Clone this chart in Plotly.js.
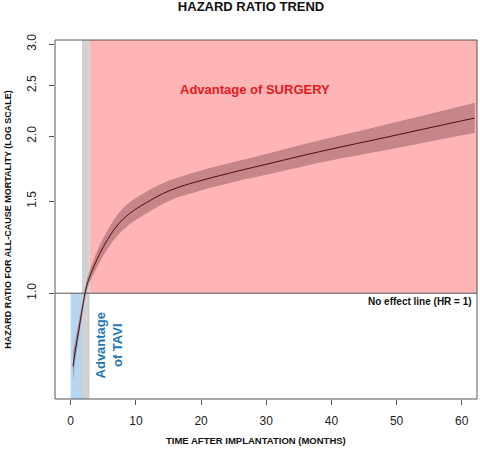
<!DOCTYPE html>
<html>
<head>
<meta charset="utf-8">
<script src="https://cdn.plot.ly/plotly-3.0.1.min.js"></script>
<style>html,body{margin:0;padding:0;background:#fff;}#chart{width:480px;height:451px;}</style>
</head>
<body>
<div id="chart"></div>
<script>
// ---- data ----
const months = [0.35, 0.66, 1.18, 1.69, 2.2, 2.61, 3.38, 4.4, 5.68, 7.2, 9.05, 11.6, 14.2, 16.7, 20, 25.8, 30, 35, 41, 47, 54, 62];
const hrEstimate = [0.724, 0.771, 0.842, 0.919, 1.0, 1.050, 1.112, 1.187, 1.269, 1.351, 1.422, 1.491, 1.553, 1.598, 1.644, 1.716, 1.766, 1.828, 1.901, 1.972, 2.061, 2.166];
const hrLower = [0.682, 0.735, 0.812, 0.894, 0.977, 1.023, 1.079, 1.144, 1.218, 1.290, 1.355, 1.421, 1.484, 1.530, 1.574, 1.643, 1.687, 1.742, 1.807, 1.866, 1.941, 2.027];
const hrUpper = [0.769, 0.809, 0.874, 0.945, 1.023, 1.077, 1.146, 1.232, 1.322, 1.415, 1.493, 1.565, 1.626, 1.669, 1.718, 1.793, 1.849, 1.919, 2.000, 2.085, 2.188, 2.316];
const xTicks = [0, 10, 20, 30, 40, 50, 60];
const yTicks = [1.0, 1.5, 2.0, 2.5, 3.0];
const yTickText = ['1.0', '1.5', '2.0', '2.5', '3.0'];
const tavEnd = 1.73;      // end of "advantage of TAVI" zone (months)
const greyEnd = 2.9;      // end of crossover (grey) zone (months)
const noEffect = 1;       // HR = 1
const xRange = [-2.41, 62.34];
const yMin = 0.627, yMax = 3.056;

const FONT = 'Liberation Sans, Arial, sans-serif';

function rect(x0, x1, y0, y1, color) {
  return {x: [x0, x1, x1, x0, x0], y: [y0, y0, y1, y1, y0], type: 'scatter', mode: 'lines',
    fill: 'toself', fillcolor: color, line: {width: 0}, hoverinfo: 'skip', showlegend: false};
}

const traces = [
  rect(0, tavEnd, yMin, noEffect, '#b5d6ee'),
  rect(greyEnd, xRange[1], noEffect, yMax, '#ffb4b6'),
  rect(tavEnd, greyEnd, yMin, yMax, '#d2d2d2'),
  {x: months, y: hrLower, type: 'scatter', mode: 'lines', line: {width: 0, shape: 'spline', smoothing: 1}, hoverinfo: 'skip', showlegend: false},
  {x: months, y: hrUpper, type: 'scatter', mode: 'lines', fill: 'tonexty', fillcolor: 'rgba(98,50,59,0.36)',
   line: {width: 0, shape: 'spline', smoothing: 1}, hoverinfo: 'skip', showlegend: false},
  {x: months, y: hrEstimate, type: 'scatter', mode: 'lines', line: {color: '#520a12', width: 1, shape: 'spline', smoothing: 1}, showlegend: false},
  {x: xRange, y: [noEffect, noEffect], type: 'scatter', mode: 'lines', line: {color: '#555', width: 1}, hoverinfo: 'skip', showlegend: false}
];

const layout = {
  width: 480, height: 451,
  margin: {l: 55, r: 3, t: 40, b: 52},
  paper_bgcolor: '#fff', plot_bgcolor: '#fff',
  font: {family: FONT, color: '#222'},
  showlegend: false,
  title: {text: '<b>HAZARD RATIO TREND</b>', font: {family: FONT, size: 13, color: '#111'},
          xref: 'container', x: 0.523, xanchor: 'center', yref: 'container', y: 0.985, yanchor: 'middle'},
  xaxis: {range: xRange, tickvals: xTicks, ticks: 'outside', ticklen: 5, tickcolor: '#555',
          showgrid: false, zeroline: false, showline: false, tickfont: {size: 12, color: '#222'},
          ticklabelstandoff: 6},
  yaxis: {type: 'log', range: [Math.log10(yMin), Math.log10(yMax)], tickvals: yTicks, ticktext: yTickText,
          tickangle: -90, ticks: 'outside', ticklen: 5, tickcolor: '#555',
          showgrid: false, zeroline: false, showline: false, tickfont: {size: 12, color: '#222'},
          ticklabelstandoff: 8,
          title: {text: '<b>HAZARD RATIO FOR ALL-CAUSE MORTALITY (LOG SCALE)</b>', font: {size: 9, color: '#111'}, standoff: 12}},
  shapes: [
    {type: 'rect', xref: 'paper', yref: 'paper', x0: 0, x1: 1, y0: 0, y1: 1, line: {color: '#555', width: 1}}
  ],
  annotations: [
    {text: '<b>TIME AFTER IMPLANTATION (MONTHS)</b>', xref: 'paper', yref: 'paper', x: (256 - 55) / 422, y: -42 / 359.8,
     xanchor: 'center', yanchor: 'middle', showarrow: false, font: {size: 9.5, color: '#111'}},
    {text: '<b>Advantage of SURGERY</b>', xref: 'x', yref: 'y', x: 28.3, y: 0.390, showarrow: false,
     xanchor: 'center', yanchor: 'middle', font: {size: 13, color: '#e31a1c'}},
    {text: '<b>No effect line (HR = 1)</b>', xref: 'x', yref: 'y', x: 61.9, y: -0.016, showarrow: false,
     xanchor: 'right', yanchor: 'middle', font: {size: 10, color: '#111'}},
    {text: '<b>Advantage<br>of TAVI</b>', xref: 'x', yref: 'y', x: 5.83, y: -0.1007, showarrow: false,
     textangle: -90, xanchor: 'center', yanchor: 'middle', font: {size: 13, color: '#1f78b4'}}
  ]
};

Plotly.newPlot('chart', traces, layout, {staticPlot: true, displayModeBar: false});
</script>
</body>
</html>
